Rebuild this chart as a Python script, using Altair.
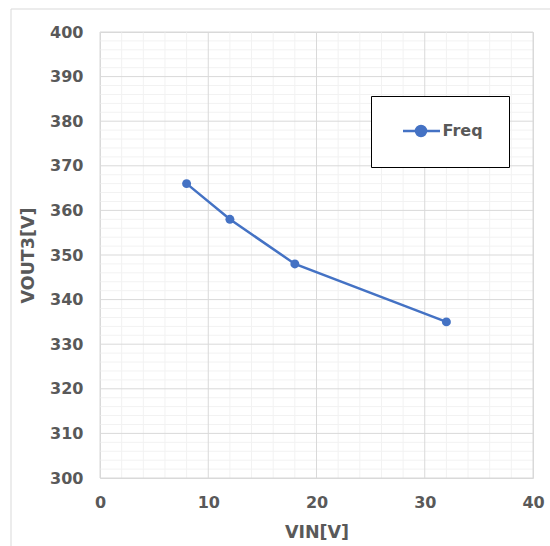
import altair as alt
import pandas as pd

vin = [8, 12, 18, 32]
vout3 = [366, 358, 348, 335]
series = ["Freq"] * len(vin)

x_major = [0, 10, 20, 30, 40]
y_major = [300, 310, 320, 330, 340, 350, 360, 370, 380, 390, 400]
x_minor = [v for v in range(0, 41, 2) if v % 10 != 0]
y_minor = [v for v in range(300, 401, 2) if v % 10 != 0]

df = pd.DataFrame({"VIN": vin, "VOUT3": vout3, "series": series})

FONT = "DejaVu Sans"
GRAY = "#595959"
BLUE = "#4472C4"

xscale = alt.Scale(domain=[0, 40], nice=False, zero=False)
yscale = alt.Scale(domain=[300, 400], nice=False, zero=False)

xaxis = alt.Axis(
    title="VIN[V]", values=x_major, grid=False, domain=False, ticks=False,
    labelPadding=16, titlePadding=13, labelFlush=False, labelOverlap=False,
)
yaxis = alt.Axis(
    title="VOUT3[V]", values=y_major, grid=False, domain=False, ticks=False,
    labelPadding=17, titlePadding=12, labelFlush=False, labelOverlap=False,
)

frame = alt.Chart(pd.DataFrame({"a": [0]})).mark_rect(
    filled=False, stroke="#d9d9d9", strokeWidth=1, clip=False
).encode(
    x=alt.value(-89), x2=alt.value(470), y=alt.value(-23), y2=alt.value(540)
)


def vrules(vals, color):
    return alt.Chart(pd.DataFrame({"VIN": vals})).mark_rule(color=color, strokeWidth=1).encode(
        x=alt.X("VIN:Q", scale=xscale, axis=xaxis)
    )


def hrules(vals, color):
    return alt.Chart(pd.DataFrame({"VOUT3": vals})).mark_rule(color=color, strokeWidth=1).encode(
        y=alt.Y("VOUT3:Q", scale=yscale, axis=yaxis)
    )


minor = [vrules(x_minor, "#f2f2f2"), hrules(y_minor, "#f2f2f2")]
major = [vrules(x_major, "#d9d9d9"), hrules(y_major, "#d9d9d9")]

base = alt.Chart(df).encode(
    x=alt.X("VIN:Q", scale=xscale, axis=xaxis),
    y=alt.Y("VOUT3:Q", scale=yscale, axis=yaxis),
    color=alt.Color(
        "series:N",
        scale=alt.Scale(range=[BLUE]),
        legend=alt.Legend(
            title=None,
            orient="none",
            legendX=271,
            legendY=64,
            strokeColor="black",
            fillColor="white",
            padding=25.5,
            symbolType="M-0.375,0H4.25M2.5,0A0.625,0.625 0 1 1 1.25,0A0.625,0.625 0 1 1 2.5,0Z",
            symbolSize=256,
            symbolStrokeWidth=2.5,
            symbolFillColor=BLUE,
            labelFontSize=16,
            labelFont=FONT,
            labelFontWeight="bold",
            labelColor=GRAY,
            labelOffset=27,
        ),
    ),
)

line = base.mark_line(strokeWidth=2.5)
pts = base.mark_circle(size=80, opacity=1)

chart = (
    alt.layer(frame, *minor, *major, line, pts)
    .properties(
        width=433,
        height=446,
        padding={"left": 100, "top": 32, "right": 17, "bottom": 68},
        autosize=alt.AutoSizeParams(type="none"),
        background="white",
    )
    .configure_view(stroke="#d9d9d9", strokeWidth=1)
    .configure_axis(
        labelFont=FONT,
        labelFontSize=16,
        labelFontWeight="bold",
        labelColor=GRAY,
        titleFont=FONT,
        titleFontSize=17.5,
        titleFontWeight="bold",
        titleColor=GRAY,
    )
)

chart.save("out.html", embed_options={"renderer": "svg", "actions": False})
